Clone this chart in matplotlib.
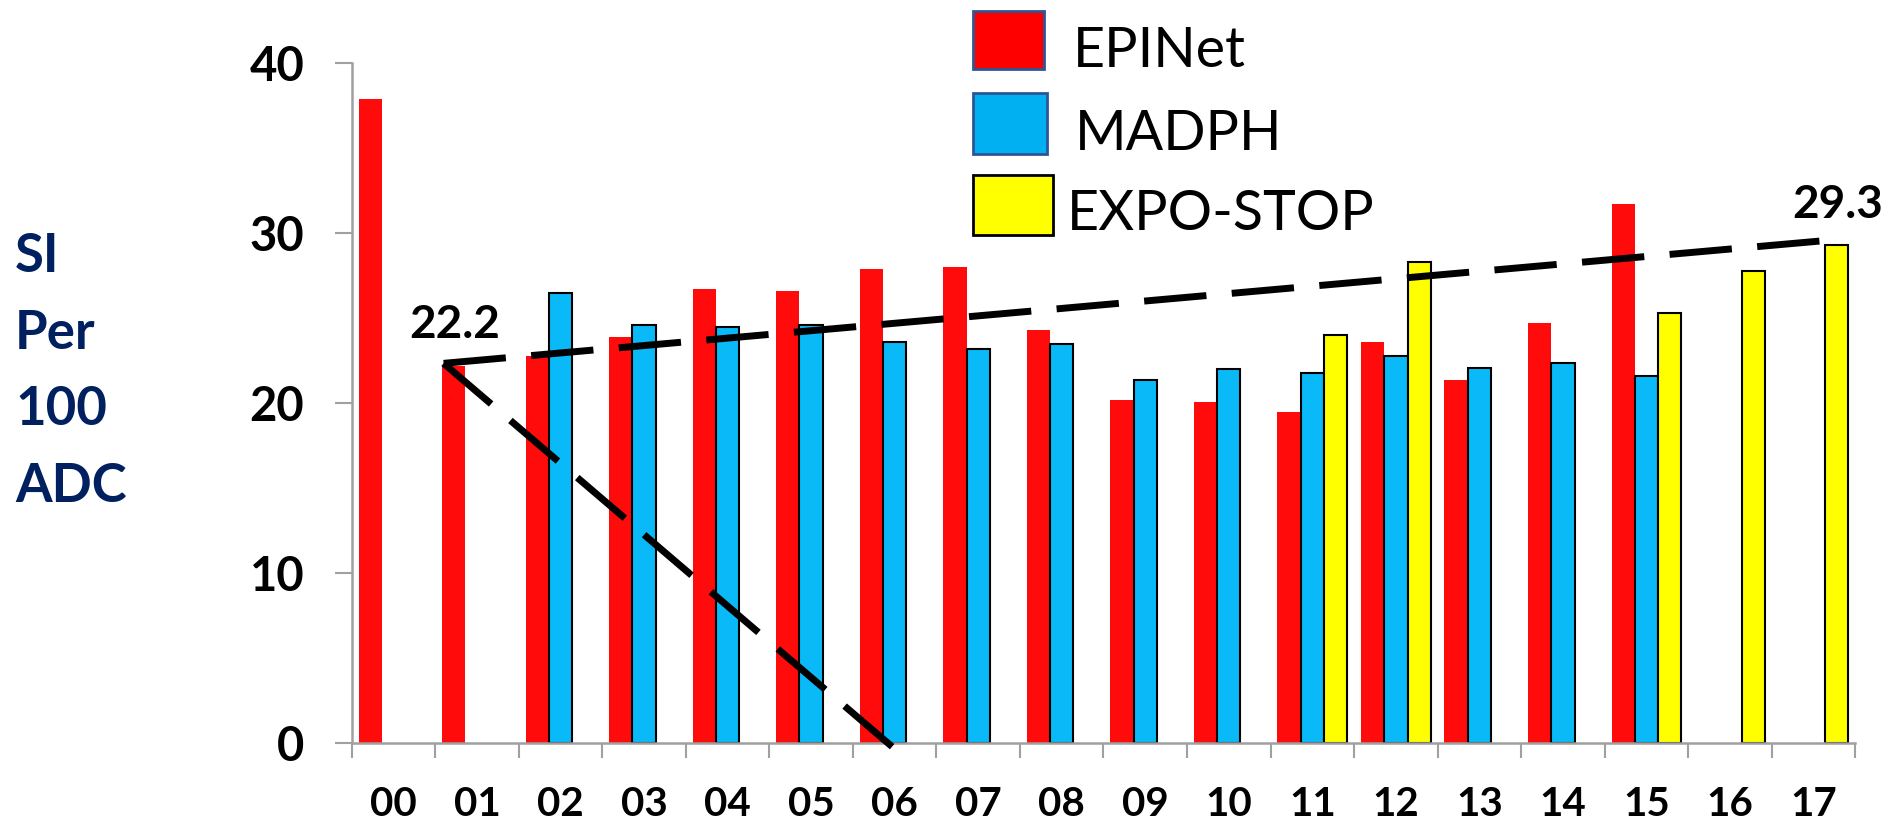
import numpy as np
import matplotlib.pyplot as plt
from matplotlib.patches import Rectangle

# Values (SI per 100 ADC, by year)
years = ['00', '01', '02', '03', '04', '05', '06', '07', '08',
         '09', '10', '11', '12', '13', '14', '15', '16', '17']
nan = np.nan
epinet = [37.9, 22.2, 22.8, 23.9, 26.7, 26.6, 27.9, 28.0, 24.3,
          20.2, 20.1, 19.5, 23.6, 21.4, 24.7, 31.7, nan, nan]
madph = [nan, nan, 26.5, 24.6, 24.5, 24.6, 23.6, 23.2, 23.5,
         21.4, 22.0, 21.8, 22.8, 22.1, 22.4, 21.6, nan, nan]
expo_stop = [nan, nan, nan, nan, nan, nan, nan, nan, nan,
             nan, nan, 24.0, 28.3, nan, nan, 25.3, 27.8, 29.3]

# dashed trend lines (x in category units, y in SI)
trend_up_x = [0.6, 17.09]
trend_up_y = [22.35, 29.55]
trend_down_x = [0.6, 5.97]
trend_down_y = [22.35, -0.2]
label_start = '22.2'
label_end = '29.3'

W, H = 1888, 825
FONT = 'Lato'
NAVY = '#002060'
GREY = '#a0a0a0'

fig = plt.figure(figsize=(W / 100, H / 100), dpi=100)
ax = fig.add_axes([351.7 / W, 1 - 743.3 / H, (1855.3 - 351.7) / W, (743.3 - 63.3) / H])

x = np.arange(len(years))
bw = 0.279
ax.bar(x - bw, epinet, bw, color='#ff0b0b', edgecolor='none')
ax.bar(x, madph, bw, color='#0abaf8', edgecolor='black', linewidth=1.5)
ax.bar(x + bw, expo_stop, bw, color='#ffff00', edgecolor='black', linewidth=1.5)

dash = (0, (9.0, 3.66))
ax.plot(trend_up_x, trend_up_y, color='black', lw=5, ls=dash, clip_on=False, zorder=5)
ax.plot(trend_down_x, trend_down_y, color='black', lw=5, ls=dash, clip_on=False, zorder=5)

ax.annotate(label_start, (trend_up_x[0], trend_up_y[0]), xytext=(8, 18),
            textcoords='offset points', ha='center', va='baseline',
            fontsize=33, fontweight='bold', family=FONT)
ax.annotate(label_end, (trend_up_x[1], trend_up_y[1]), xytext=(12, 16.5),
            textcoords='offset points', ha='center', va='baseline',
            fontsize=33, fontweight='bold', family=FONT, annotation_clip=False)

ax.set_xlim(-0.5, len(years) - 0.5)
ax.set_ylim(0, 40)
ax.set_yticks([0, 10, 20, 30, 40])
ax.tick_params(axis='y', length=12.2, width=1.5, color=GREY, pad=22,
               labelsize=34)
ax.set_xticks(np.arange(len(years) + 1) - 0.5)
ax.set_xticklabels([])
ax.set_xticks(x, minor=True)
ax.set_xticklabels(years, minor=True)
ax.tick_params(axis='x', which='major', length=10.8, width=1.5, color=GREY)
ax.tick_params(axis='x', which='minor', length=0, pad=31, labelsize=29)
for lab in ax.get_yticklabels() + ax.get_xticklabels(minor=True):
    lab.set_fontweight('bold')
    lab.set_family(FONT)

for s in ['top', 'right']:
    ax.spines[s].set_visible(False)
for s in ['left', 'bottom']:
    ax.spines[s].set_color(GREY)
    ax.spines[s].set_linewidth(1.8)

# y axis title, one word per line
for word, base in zip(['SI', 'Per', '100', 'ADC'], [272, 349, 425, 502]):
    fig.text(15 / W, 1 - base / H, word, color=NAVY, fontsize=38,
             fontweight='bold', family=FONT, va='baseline', ha='left')

# legend drawn as boxes at the top
legend_items = [
    ('EPINet', '#ff0000', '#2f5597', (973, 10.7, 1044.3, 69), 1073, 66.7),
    ('MADPH', '#00b0f0', '#2f5597', (973, 92.7, 1046.7, 154), 1075, 150),
    ('EXPO-STOP', '#ffff00', 'black', (973, 175, 1052.7, 235), 1066.7, 230),
]
for name, fc, ec, (x0, y0, x1, y1), tx, ty in legend_items:
    fig.add_artist(Rectangle((x0 / W, 1 - y1 / H), (x1 - x0) / W, (y1 - y0) / H,
                             transform=fig.transFigure, facecolor=fc,
                             edgecolor=ec, linewidth=2))
    fig.text(tx / W, 1 - ty / H, name, fontsize=40, family=FONT,
             va='baseline', ha='left')

fig.savefig('out.png', dpi=100)
